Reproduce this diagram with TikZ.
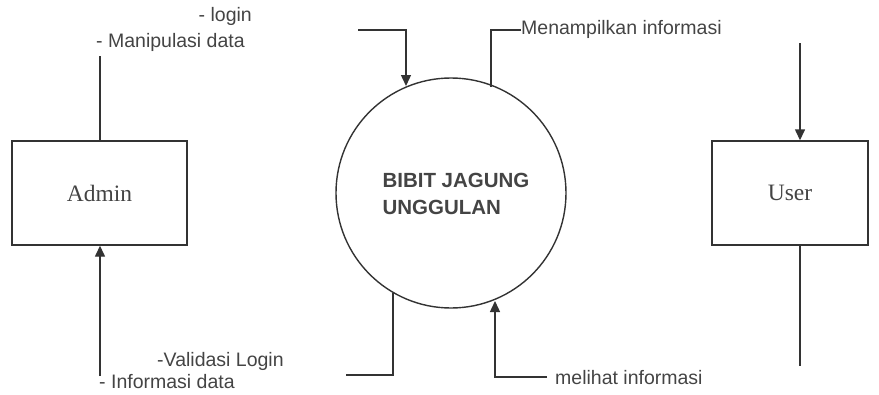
\documentclass[tikz,border=0pt]{standalone}
\usepackage{fontspec}
\setmainfont{Liberation Serif}
\setsansfont{Liberation Sans}
\usetikzlibrary{arrows.meta}
\definecolor{ink}{HTML}{333333}
\definecolor{txt}{HTML}{444444}
\tikzset{
  flow/.style={line width=1.4pt, draw=ink},
  arr/.style={flow, -{Triangle[length=11pt,width=10pt]}},
  lbl/.style={font=\sffamily\fontsize{19.5}{22}\selectfont, text=txt, inner sep=0pt},
  entity/.style={draw=ink, line width=1.4pt, minimum width=175pt, minimum height=104pt, font=\fontsize{23.5}{26}\selectfont, text=txt},
  proc/.style={draw=ink, line width=1.4pt, circle, minimum size=230pt, inner sep=0pt}
}
\begin{document}
\begin{tikzpicture}[x=1pt,y=-1pt]
\useasboundingbox (0,0) rectangle (879,394);
% entities
\node[entity] (admin) at (99.5,193) {Admin};
\node[entity, minimum width=156pt] (user) at (790,193) {User};
\node[proc] (p) at (451,193) {};
\node[font=\sffamily\bfseries\fontsize{20.5}{27}\selectfont, text=txt, align=left, anchor=west] (ptxt) at (379,194) {BIBIT JAGUNG\\UNGGULAN};
% Admin flows
\coordinate (a1) at (100,56);
\draw[flow] (admin.north -| a1) -- (a1);
\coordinate (a2) at (100,376);
\draw[arr] (a2) -- (admin.south -| a2);
% login into process
\coordinate (l0) at (358,30);
\coordinate (l1) at (406,30);
\coordinate (l2) at (406,86);
\draw[arr] (l0) -- (l1) -- (l2);
% Menampilkan informasi
\coordinate (m0) at (491,87);
\coordinate (m1) at (491,30);
\coordinate (m2) at (521,30);
\draw[flow] (m0) -- (m1) -- (m2);
% Validasi login
\coordinate (v0) at (393,293);
\coordinate (v1) at (393,375);
\coordinate (v2) at (346,375);
\draw[flow] (v0) -- (v1) -- (v2);
% melihat informasi
\coordinate (h0) at (547,377);
\coordinate (h1) at (495,377);
\coordinate (h2) at (495,301);
\draw[arr] (h0) -- (h1) -- (h2);
% User flows
\coordinate (u0) at (800,43);
\draw[arr] (u0) -- (user.north -| u0);
\coordinate (u1) at (800,366);
\draw[flow] (user.south -| u1) -- (u1);
% labels
\node[lbl, anchor=east] (tlogin) at (252,16) {- login};
\node[lbl, anchor=west] (tmanip) at (96,42) {- Manipulasi data};
\node[lbl, anchor=west] (tmenam) at (521,29) {Menampilkan informasi};
\node[lbl, anchor=west] (tvalid) at (157,361) {-Validasi Login};
\node[lbl, anchor=west] (tinfo) at (99,382) {- Informasi data};
\node[lbl, anchor=west] (tmelih) at (555,378) {melihat informasi};
\end{tikzpicture}
\end{document}
